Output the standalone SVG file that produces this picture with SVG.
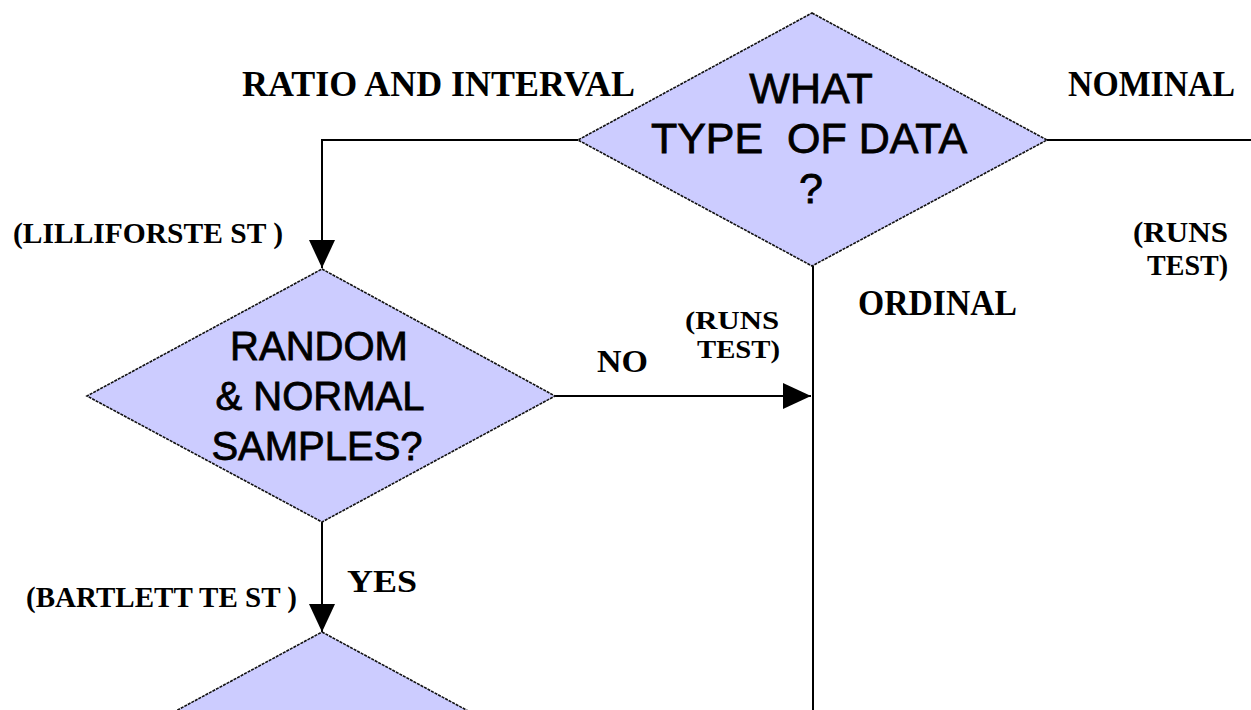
<svg xmlns="http://www.w3.org/2000/svg" width="1251" height="710" viewBox="0 0 1251 710">
  <style>
    .decision { fill: #ccccff; stroke: #111; stroke-width: 1.6; stroke-dasharray: 3 1; }
    .q { font-family: "Liberation Sans", Arial, sans-serif; fill: #000; stroke: #000; stroke-width: 0.8; text-anchor: middle; }
    .lbl { font-family: "Liberation Serif", "Times New Roman", serif; font-weight: bold; fill: #000; }
    .edge { fill: none; stroke: #000; stroke-width: 2; }
  </style>
  <defs>
    <marker id="arrow" markerUnits="userSpaceOnUse" markerWidth="28" markerHeight="26" refX="28" refY="13" orient="auto">
      <path d="M0,0 L28,13 L0,26 z" fill="#000"/>
    </marker>
  </defs>
  <rect width="1251" height="710" fill="#fff"/>

  <!-- connectors -->
  <g id="connectors">
    <path class="edge" d="M578,140 H322 V268" marker-end="url(#arrow)"/>
    <path class="edge" d="M1047,140 H1251"/>
    <path class="edge" d="M813,266 V710"/>
    <path class="edge" d="M555,396 H811" marker-end="url(#arrow)"/>
    <path class="edge" d="M322,522 V632" marker-end="url(#arrow)"/>
  </g>

  <!-- data type decision -->
  <g id="node-data-type">
    <polygon class="decision" points="812,13 1047,140 812,266 578,140"/>
    <text class="q" font-size="43" x="811" y="103">WHAT</text>
    <text class="q" font-size="43" x="809" y="153" xml:space="preserve">TYPE  OF DATA</text>
    <text class="q" font-size="43" x="811" y="203">?</text>
  </g>

  <!-- random & normal decision -->
  <g id="node-random-normal">
    <polygon class="decision" points="322,269 555,396 322,522 87,396"/>
    <text class="q" font-size="40" x="319" y="360">RANDOM</text>
    <text class="q" font-size="40" x="320" y="410">&amp; NORMAL</text>
    <text class="q" font-size="40" x="317" y="460">SAMPLES?</text>
  </g>

  <!-- next decision (continues below) -->
  <g id="node-variance">
    <polygon class="decision" points="322,632 557,759 322,886 87,759"/>
  </g>

  <!-- branch and test labels -->
  <g id="labels">
    <text class="lbl" font-size="35" x="242" y="96" textLength="393" lengthAdjust="spacingAndGlyphs">RATIO AND INTERVAL</text>
    <text class="lbl" font-size="35" x="1068" y="96" textLength="167" lengthAdjust="spacingAndGlyphs">NOMINAL</text>
    <text class="lbl" font-size="35" x="858" y="315" textLength="159" lengthAdjust="spacingAndGlyphs">ORDINAL</text>
    <text class="lbl" font-size="30" x="13" y="243" textLength="270" lengthAdjust="spacingAndGlyphs">(LILLIFORSTE ST )</text>
    <text class="lbl" font-size="26" x="685" y="329" textLength="94" lengthAdjust="spacingAndGlyphs">(RUNS</text>
    <text class="lbl" font-size="26" x="697" y="358" textLength="83" lengthAdjust="spacingAndGlyphs">TEST)</text>
    <text class="lbl" font-size="31" x="597" y="372" textLength="51" lengthAdjust="spacingAndGlyphs">NO</text>
    <text class="lbl" font-size="30" x="1133" y="242" textLength="95" lengthAdjust="spacingAndGlyphs">(RUNS</text>
    <text class="lbl" font-size="30" x="1147" y="275" textLength="81" lengthAdjust="spacingAndGlyphs">TEST)</text>
    <text class="lbl" font-size="32" x="347" y="592" textLength="70" lengthAdjust="spacingAndGlyphs">YES</text>
    <text class="lbl" font-size="30" x="26" y="607" textLength="271" lengthAdjust="spacingAndGlyphs">(BARTLETT TE ST )</text>
  </g>
</svg>
